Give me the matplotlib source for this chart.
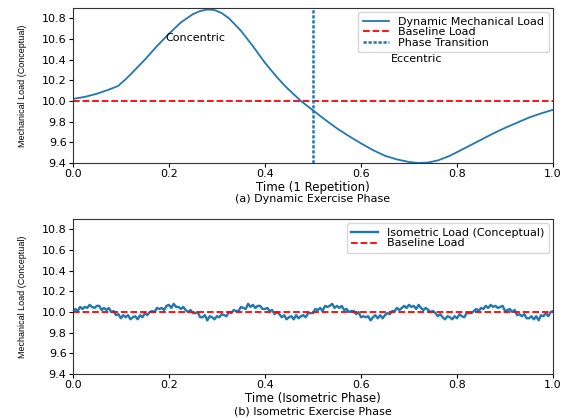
import numpy as np
import matplotlib
matplotlib.use("Agg")
import matplotlib.pyplot as plt

# dynamic repetition, load
t_dyn = [0.000, 0.025, 0.050, 0.075, 0.094, 0.110, 0.125, 0.150, 0.175, 0.200,
         0.225, 0.250, 0.265, 0.280, 0.295, 0.310, 0.325, 0.350, 0.375, 0.400,
         0.425, 0.445, 0.475, 0.500, 0.525, 0.550, 0.575, 0.600, 0.625, 0.650,
         0.675, 0.700, 0.720, 0.740, 0.760, 0.785, 0.800, 0.825, 0.850, 0.875,
         0.900, 0.925, 0.950, 0.975, 1.000]
load_dyn = [10.02, 10.04, 10.07, 10.11, 10.145, 10.21, 10.28, 10.40, 10.53, 10.65,
            10.76, 10.84, 10.87, 10.885, 10.88, 10.85, 10.80, 10.68, 10.53, 10.37,
            10.23, 10.13, 10.00, 9.91, 9.82, 9.735, 9.66, 9.59, 9.525, 9.47,
            9.435, 9.41, 9.40, 9.405, 9.425, 9.47, 9.505, 9.565, 9.625, 9.685,
            9.74, 9.79, 9.84, 9.88, 9.915]

# isometric hold, 201 samples over the phase
load_iso = [
    10.00, 10.03, 10.01, 10.05, 10.03, 10.05, 10.04, 10.07, 10.05, 10.04,
    10.06, 10.06, 10.02, 10.04, 10.02, 10.04, 10.00, 10.01, 9.97, 9.98,
    9.94, 9.97, 9.95, 9.97, 9.93, 9.95, 9.96, 9.93, 9.97, 9.95,
    9.99, 9.97, 10.00,
    10.01, 10.00, 10.04, 10.03, 10.04, 10.02, 10.06, 10.07, 10.04, 10.08,
    10.05, 10.05, 10.03, 10.05, 10.02, 10.00, 10.02, 9.99, 9.99, 10.00,
    9.95, 9.95, 9.97, 9.92, 9.96, 9.95, 9.93, 9.96, 9.95, 9.98,
    9.97, 9.96, 10.00, 9.99,
    10.02, 10.01, 10.01, 10.05, 10.04, 10.03, 10.08, 10.05, 10.07, 10.04,
    10.06, 10.06, 10.03, 10.03, 10.04, 10.01, 10.02, 9.98, 10.00, 9.98,
    9.95, 9.97, 9.93, 9.95, 9.96, 9.93, 9.97, 9.94, 9.96, 9.97,
    9.95, 9.99, 9.99,
    9.99, 10.03, 10.02, 10.04, 10.01, 10.06, 10.05, 10.06, 10.08, 10.04,
    10.06, 10.04, 10.06, 10.02, 10.03, 10.00, 10.01, 10.01, 9.98, 10.00,
    9.95, 9.96, 9.95, 9.96, 9.92, 9.95, 9.97, 9.94, 9.97, 9.94,
    9.97, 9.99, 9.98,
    10.01, 10.01, 10.04, 10.02, 10.04, 10.06, 10.04, 10.07, 10.05, 10.06,
    10.03, 10.07, 10.04, 10.02, 10.04, 10.02, 10.00, 10.01, 9.99, 9.96,
    9.98, 9.95, 9.93, 9.96, 9.95, 9.93, 9.96, 9.94, 9.98, 9.96,
    9.95, 9.99, 9.99, 9.99,
    10.01, 10.03, 10.01, 10.04, 10.03, 10.06, 10.04, 10.07, 10.05, 10.06,
    10.04, 10.05, 10.06, 10.01, 10.02, 10.03, 10.00, 10.02, 9.97, 9.98,
    9.96, 9.98, 9.94, 9.94, 9.96, 9.93, 9.96, 9.92, 9.97, 9.96,
    9.99, 9.96, 10.00,
    10.01,
]
t_iso = np.linspace(0, 1, len(load_iso))

baseline = 10.0
transition = 0.5

fig = plt.figure(figsize=(5.69, 4.18), dpi=100)
ax1 = fig.add_axes([0.128, 0.610, 0.844, 0.371])
ax2 = fig.add_axes([0.128, 0.105, 0.844, 0.371])

tick_fs = 8
ylab_font = dict(family="Liberation Sans", size=6.5)

ax1.plot(t_dyn, load_dyn, color="#1f77b4", lw=1.3, label="Dynamic Mechanical Load")
ax1.axhline(baseline, color="red", ls="--", lw=1.3, label="Baseline Load")
ax1.axvline(transition, color="#1f77b4", ls="--", lw=1.8, dashes=(1.3, 0.7),
            label="Phase Transition")
ax1.text(0.256, 10.61, "Concentric", ha="center", va="center", fontsize=8)
ax1.text(0.716, 10.41, "Eccentric", ha="center", va="center", fontsize=8)
ax1.set_xlim(0, 1)
ax1.set_ylim(9.4, 10.9)
ax1.set_xlabel("Time (1 Repetition)", fontsize=8.5, labelpad=1)
ax1.set_ylabel("Mechanical Load (Conceptual)", fontdict=ylab_font, labelpad=11)
ax1.legend(loc="upper right", fontsize=8, borderaxespad=0.4,
           labelspacing=0.05, handlelength=2.4)
ax1.text(0.5, -0.232, "(a) Dynamic Exercise Phase", transform=ax1.transAxes,
         ha="center", va="center", fontsize=8)

ax2.plot(t_iso, load_iso, color="#1f77b4", lw=1.7, label="Isometric Load (Conceptual)")
ax2.axhline(baseline, color="red", ls="--", lw=1.3, label="Baseline Load")
ax2.set_xlim(0, 1)
ax2.set_ylim(9.4, 10.9)
ax2.set_xlabel("Time (Isometric Phase)", fontsize=8.5, labelpad=1)
ax2.set_ylabel("Mechanical Load (Conceptual)", fontdict=ylab_font, labelpad=11)
ax2.legend(loc="upper right", fontsize=8, borderaxespad=0.4,
           labelspacing=0.05, handlelength=2.4)
ax2.text(0.5, -0.239, "(b) Isometric Exercise Phase", transform=ax2.transAxes,
         ha="center", va="center", fontsize=8)

for ax in (ax1, ax2):
    ax.set_xticks([0.0, 0.2, 0.4, 0.6, 0.8, 1.0])
    ax.set_yticks([9.4, 9.6, 9.8, 10.0, 10.2, 10.4, 10.6, 10.8])
    ax.tick_params(labelsize=tick_fs, length=3, pad=1.5)
    for s in ax.spines.values():
        s.set_color("#333333")

fig.savefig("out.png", dpi=100)
